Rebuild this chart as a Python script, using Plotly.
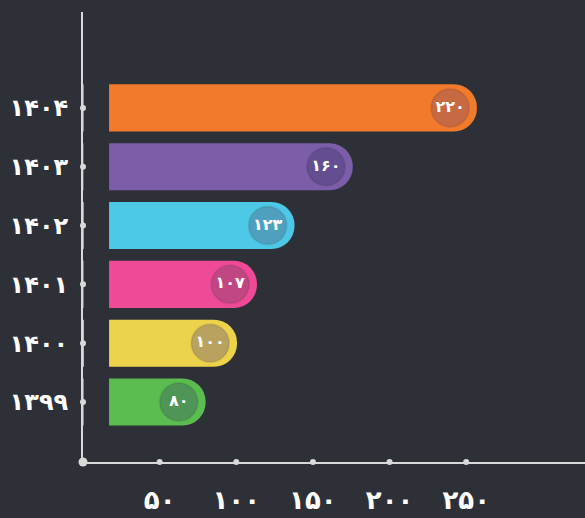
import plotly.graph_objects as go

years = ["۱۳۹۹", "۱۴۰۰", "۱۴۰۱", "۱۴۰۲", "۱۴۰۳", "۱۴۰۴"]
value_labels = ["۸۰", "۱۰۰", "۱۰۷", "۱۲۳", "۱۶۰", "۲۲۰"]
bar_ends = [80, 100.5, 113.5, 138, 176, 257]   # as drawn on the axis
bar_start = 17
colors = ["#5BBD4F", "#EDD24B", "#EE4A98", "#4DC8E6", "#7B5DA8", "#F17A2C"]
circle_colors = ["#4E9557", "#B9A25F", "#C14782", "#4FA0BE", "#644E91", "#C76943"]
tick_vals = [50, 100, 150, 200, 250]
tick_text = ["۵۰", "۱۰۰", "۱۵۰", "۲۰۰", "۲۵۰"]

BG = "#2E3038"
AX = "#D9D9D9"
ypos = list(range(len(years)))

fig = go.Figure()
# rounded bars (from the axis)
fig.add_trace(go.Bar(
    y=ypos, x=bar_ends, orientation="h", width=0.8,
    marker=dict(color=colors, cornerradius="50%", line=dict(width=0)),
    hoverinfo="skip",
))
# gap between the axis and the start of each bar
fig.add_trace(go.Bar(
    y=ypos, x=[bar_start - 0.6] * len(ypos), base=0.6,
    orientation="h", width=0.86,
    marker=dict(color=BG, line=dict(width=0)),
    hoverinfo="skip",
))
# value circles
fig.add_trace(go.Scatter(
    y=ypos, x=[e - 17.5 for e in bar_ends], mode="markers+text",
    marker=dict(size=38, color=circle_colors, line=dict(width=2, color="rgba(0,0,0,0.08)")),
    text=value_labels, textposition="middle center",
    textfont=dict(family="DejaVu Sans", size=16, color="white", weight="bold"),
    hoverinfo="skip",
))
# axis dots
fig.add_trace(go.Scatter(
    x=[0] * len(ypos), y=ypos, mode="markers",
    marker=dict(size=6, color=AX), cliponaxis=False, hoverinfo="skip",
))
fig.add_trace(go.Scatter(
    x=tick_vals, y=[-1.02] * len(tick_vals), mode="markers",
    marker=dict(size=6, color=AX), cliponaxis=False, hoverinfo="skip",
))
fig.add_trace(go.Scatter(
    x=[0], y=[-1.02], mode="markers",
    marker=dict(size=9, color=AX), cliponaxis=False, hoverinfo="skip",
))

fig.update_layout(
    width=585, height=518,
    margin=dict(l=83, r=0, t=12, b=56),
    paper_bgcolor=BG, plot_bgcolor=BG,
    showlegend=False, barmode="overlay",
    xaxis=dict(range=[0, 327.5], tickvals=tick_vals, ticktext=tick_text,
               showgrid=False, zeroline=False, showline=True, linecolor=AX, linewidth=2,
               ticks="", ticklabelstandoff=14, automargin=False, layer="above traces",
               tickfont=dict(family="DejaVu Sans", size=26, color="white", weight="bold")),
    yaxis=dict(range=[-1.02, 6.63], tickvals=ypos, ticktext=years,
               showgrid=False, zeroline=False, showline=True, linecolor=AX, linewidth=2,
               ticks="", ticklabelstandoff=8, automargin=False, layer="above traces",
               tickfont=dict(family="DejaVu Sans", size=24, color="white", weight="bold")),
)

fig.write_html("out.html")
